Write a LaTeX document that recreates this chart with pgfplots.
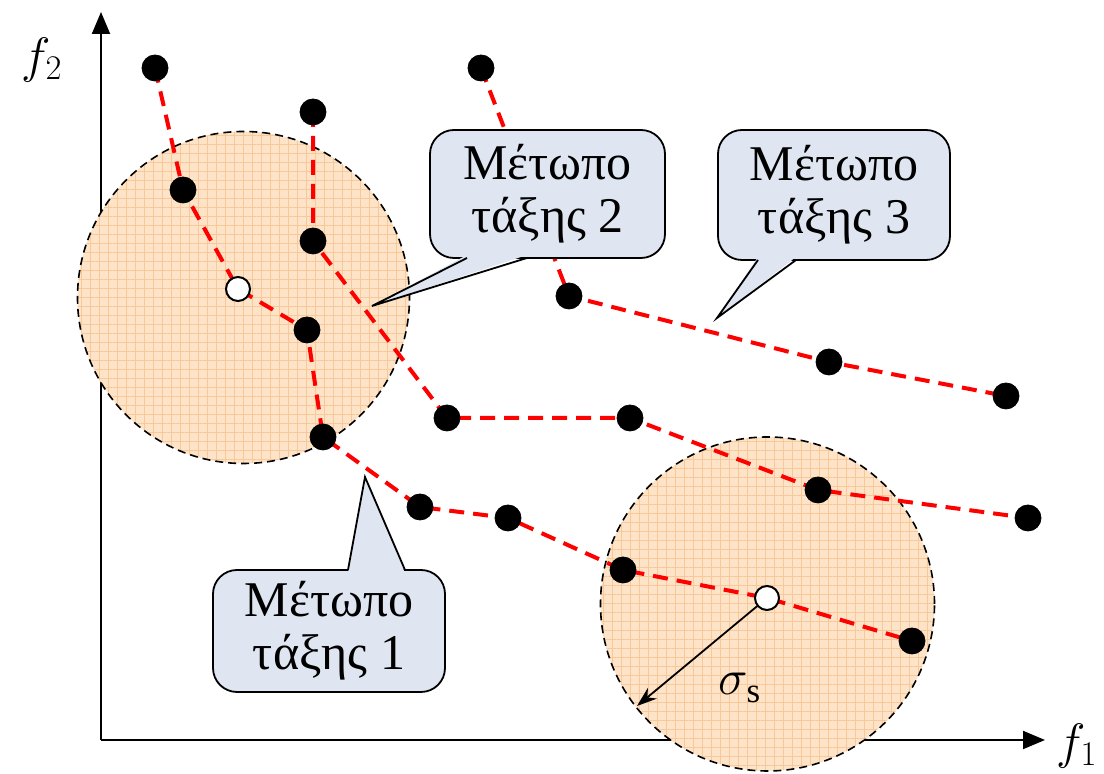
\documentclass[border=0pt]{standalone}
\usepackage{fontspec}
\setmainfont{Liberation Serif}
\usepackage{pgfplots}
\pgfplotsset{compat=1.18}
\usetikzlibrary{arrows.meta,patterns.meta}
\definecolor{fillc}{RGB}{253,228,200}
\definecolor{gridc}{RGB}{250,200,150}
\definecolor{callc}{RGB}{223,230,242}
\begin{document}
\begin{tikzpicture}
\begin{axis}[
  scale only axis, width=472pt, height=364pt,
  xmin=101, xmax=1045, ymin=34, ymax=762,
  axis lines=left, xtick=\empty, ytick=\empty,
  axis line style={line width=1pt, -{Triangle[length=11pt,width=9pt]}},
  clip=false,
]
\coordinate (bl) at (axis cs:0,0);
\coordinate (tr) at (axis cs:1104,774);
% niche circles
\fill[fillc] (axis cs:243.5,476.5) circle[radius=83pt];
\fill[pattern={Hatch[distance=4.5pt,angle=0,line width=0.4pt]},pattern color=gridc] (axis cs:243.5,476.5) circle[radius=83pt];
\draw[black, line width=0.8pt, dash pattern=on 4pt off 2.5pt] (axis cs:243.5,476.5) circle[radius=83pt];
\fill[fillc] (axis cs:767.5,170) circle[radius=83.5pt];
\fill[pattern={Hatch[distance=4.5pt,angle=0,line width=0.4pt]},pattern color=gridc] (axis cs:767.5,170) circle[radius=83.5pt];
\draw[black, line width=0.8pt, dash pattern=on 4pt off 2.5pt] (axis cs:767.5,170) circle[radius=83.5pt];
% black points
\addplot[only marks, mark=*, mark size=6.5pt, black] coordinates {
 (155,706) (183,584) (307,444) (323,337) (420,267) (508,256) (623,204) (912,133)
 (313,662) (313,533) (447,356) (630,356) (818,284) (1028,256)
 (481,706) (569,478) (829,412) (1006,378)};
% fronts
\addplot[red, line width=2pt, dash pattern=on 7.5pt off 4.5pt] coordinates {
 (155,706) (183,584) (238,485) (307,444) (323,337) (420,267) (508,256) (623,204) (767,176) (912,133)};
\addplot[red, line width=2pt, dash pattern=on 7.5pt off 4.5pt] coordinates {
 (313,662) (313,533) (447,356) (630,356) (818,284) (1028,256)};
\addplot[red, line width=2pt, dash pattern=on 7.5pt off 4.5pt] coordinates {
 (481,706) (569,478) (829,412) (1006,378)};
% open points
\addplot[only marks, mark=*, mark size=6pt, draw=black, fill=white, line width=1pt] coordinates {
 (238,485) (767,176)};
% sigma arrow
\draw[line width=0.9pt, -{Stealth[length=10pt,width=7pt]}] (axis cs:767,176) -- (axis cs:637,68);
\node[font=\fontsize{25}{28}\selectfont] at (axis cs:740,86) {$\sigma_{\mathrm{s}}$};
% callout 2
\draw[line width=0.9pt, fill=callc, rounded corners=12pt] (axis cs:430,516) rectangle (axis cs:665,644);
\fill[callc] (axis cs:467,519) -- (axis cs:372,468) -- (axis cs:527,519) -- cycle;
\draw[line width=0.9pt] (axis cs:467,516) -- (axis cs:372,468) -- (axis cs:527,516);
\node[align=center, font=\fontsize{25}{26.5}\selectfont] at (axis cs:547.5,580) {Μέτωπο\\τάξης 2};
% callout 3
\draw[line width=0.9pt, fill=callc, rounded corners=12pt] (axis cs:718,514) rectangle (axis cs:950,644);
\fill[callc] (axis cs:758,517) -- (axis cs:717,456) -- (axis cs:796,517) -- cycle;
\draw[line width=0.9pt] (axis cs:758,514) -- (axis cs:717,456) -- (axis cs:796,514);
\node[align=center, font=\fontsize{25}{26.5}\selectfont] at (axis cs:834,579) {Μέτωπο\\τάξης 3};
% callout 1
\draw[line width=0.9pt, fill=callc, rounded corners=12pt] (axis cs:213,82) rectangle (axis cs:445,204);
\fill[callc] (axis cs:348,201) -- (axis cs:365,297) -- (axis cs:405,201) -- cycle;
\draw[line width=0.9pt] (axis cs:348,204) -- (axis cs:365,297) -- (axis cs:405,204);
\node[align=center, font=\fontsize{25}{26.5}\selectfont] at (axis cs:329,143) {Μέτωπο\\τάξης 1};
% axis labels
\node[font=\fontsize{24}{28}\selectfont] at (axis cs:42,714) {$f_2$};
\node[font=\fontsize{24}{28}\selectfont] at (axis cs:1077,28) {$f_1$};
\end{axis}
\pgfresetboundingbox
\path[use as bounding box] (bl) rectangle (tr);
\end{tikzpicture}
\end{document}
